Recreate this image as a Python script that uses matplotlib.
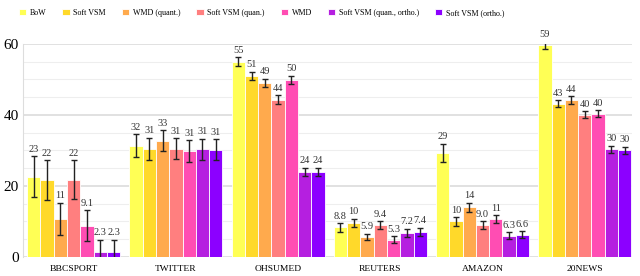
import numpy as np
import matplotlib.pyplot as plt

plt.rcParams['font.family'] = ['Liberation Serif', 'DejaVu Serif']

datasets = ["BBCSPORT", "TWITTER", "OHSUMED", "REUTERS", "AMAZON", "20NEWS"]
methods = ["BoW", "Soft VSM", "WMD (quant.)", "Soft VSM (quan.)", "WMD",
           "Soft VSM (quan., ortho.)", "Soft VSM (ortho.)"]
colors = ["#ffff55", "#ffd92a", "#ffaa4d", "#ff7f7f", "#ff4db3", "#b51fe0", "#8c00ff"]

# rows = methods, columns = datasets
heights = [
    [22.6, 31.3, 55.0, 8.3, 29.3, 59.6],
    [21.7, 30.5, 51.0, 9.6, 10.0, 43.2],
    [10.7, 32.7, 49.0, 5.6, 14.0, 44.2],
    [21.7, 30.5, 44.3, 9.0, 9.0, 40.1],
    [8.8, 29.8, 49.8, 4.9, 10.7, 40.3],
    [1.4, 30.3, 24.0, 6.8, 6.0, 30.3],
    [1.4, 30.2, 24.0, 7.0, 6.3, 30.0],
]
errors = [
    [5.7, 3.2, 1.2, 1.2, 2.6, 1.0],
    [5.6, 3.1, 1.2, 1.2, 1.2, 1.0],
    [4.6, 3.0, 1.2, 0.9, 1.3, 1.0],
    [5.5, 3.0, 1.2, 1.1, 1.0, 1.0],
    [4.3, 3.0, 1.2, 0.9, 1.1, 1.0],
    [3.5, 3.0, 1.1, 1.2, 1.0, 1.0],
    [3.5, 3.0, 1.1, 1.2, 1.0, 1.0],
]
labels = [
    ["23", "32", "55", "8.8", "29", "59"],
    ["22", "31", "51", "10", "10", "43"],
    ["11", "33", "49", "5.9", "14", "44"],
    ["22", "31", "44", "9.4", "9.0", "40"],
    ["9.1", "31", "50", "5.3", "11", "40"],
    ["2.3", "31", "24", "7.2", "6.3", "30"],
    ["2.3", "31", "24", "7.4", "6.6", "30"],
]

fig = plt.figure(figsize=(6.4, 2.76), dpi=100)
ax = fig.add_axes([0.036, 0.069, 0.952, 0.772])

x = np.arange(len(datasets))
w = 0.91 / len(methods)
for i, m in enumerate(methods):
    xs = x - 0.455 + w * (i + 0.5)
    ax.bar(xs, heights[i], width=w, color=colors[i], edgecolor="white",
           linewidth=0.6, label=m, zorder=2)
    ax.errorbar(xs, heights[i], yerr=errors[i], fmt="none", ecolor="#222222",
                elinewidth=1, capsize=2.5, capthick=1, zorder=3)
    for xx, h, e, t in zip(xs, heights[i], errors[i], labels[i]):
        ax.text(xx, h + e + 0.7, t, ha="center", va="bottom", fontsize=7.5,
                color="#333333")

ax.set_xlim(-0.495, 5.465)
ax.set_ylim(0, 60)
ax.set_xticks(x)
ax.set_xticklabels(datasets, fontsize=6.8)
ax.set_yticks([0, 20, 40, 60])
ax.set_yticks(np.arange(0, 61, 5), minor=True)
ax.tick_params(axis="y", labelsize=11, length=0, pad=3)
ax.tick_params(axis="y", which="minor", length=0)
ax.tick_params(axis="x", length=0, pad=6)
ax.grid(axis="y", which="major", color="#dcdcdc", linewidth=1.2, zorder=0)
ax.grid(axis="y", which="minor", color="#eeeeee", linewidth=0.8, zorder=0)
ax.set_axisbelow(True)
for s in ["top", "right", "bottom"]:
    ax.spines[s].set_visible(False)
ax.spines["left"].set_color("#dddddd")

fig.legend(loc="upper left", bbox_to_anchor=(0.018, 0.995), ncol=7, frameon=False,
           fontsize=5.8, handlelength=0.9, handleheight=0.9, handletextpad=0.45,
           columnspacing=2.0)

fig.savefig("out.png", dpi=100)
